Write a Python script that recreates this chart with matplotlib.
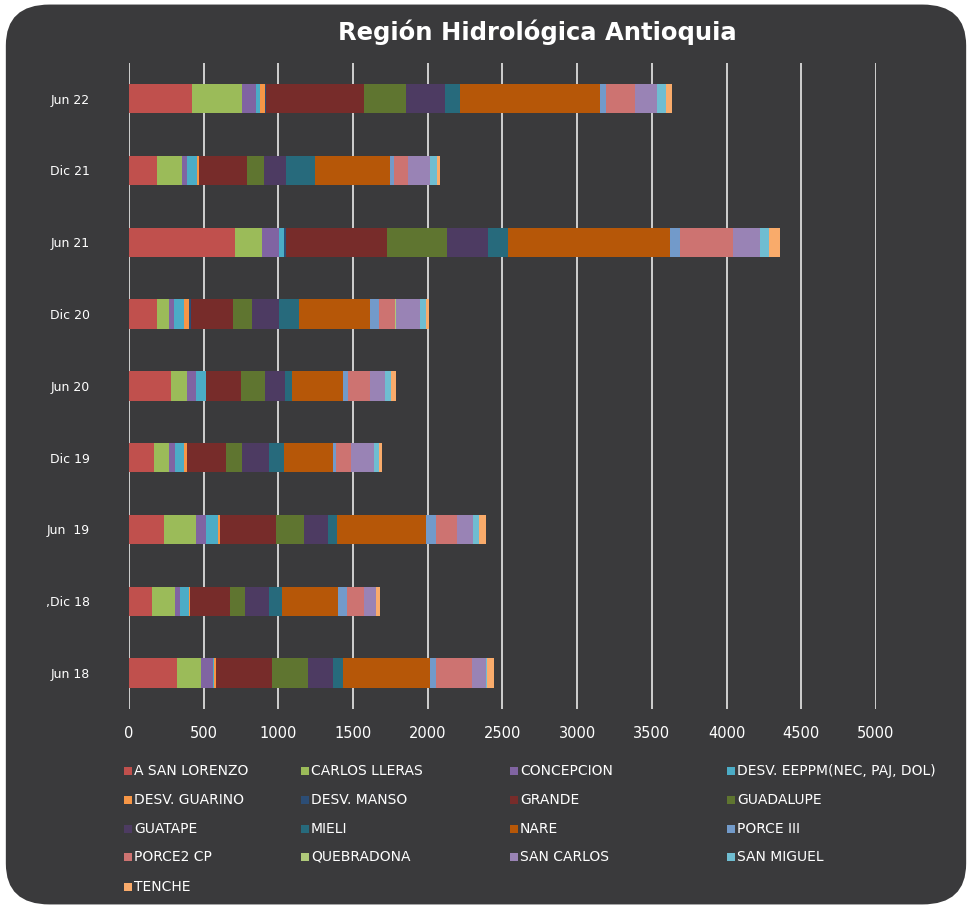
import matplotlib.pyplot as plt
from matplotlib.patches import FancyBboxPatch, Rectangle

# Periodos (de arriba hacia abajo)
periodos = ["Jun 22", "Dic 21", "Jun 21", "Dic 20", "Jun 20", "Dic 19", "Jun  19", ",Dic 18", "Jun 18"]

# Aporte por planta / desviación en cada periodo
san_lorenzo = [424, 187, 708, 187, 279, 165, 232, 152, 324]
carlos_lleras = [330, 166, 180, 79, 109, 101, 214, 156, 156]
concepcion = [94, 38, 114, 33, 61, 44, 67, 36, 82]
desv_eeppm = [31, 67, 34, 69, 64, 56, 81, 58, 7]
desv_guarino = [32, 9, 0, 32, 0, 25, 13, 9, 11]
desv_manso = [9, 2, 13, 13, 0, 0, 0, 0, 0]
grande = [651, 322, 681, 283, 239, 261, 375, 263, 378]
guadalupe = [282, 114, 401, 125, 159, 102, 190, 101, 238]
guatape = [263, 147, 275, 183, 136, 181, 161, 160, 170]
mieli = [103, 194, 134, 137, 47, 101, 58, 89, 67]
nare = [933, 498, 1083, 475, 339, 330, 600, 376, 580]
porce_iii = [42, 33, 67, 58, 33, 22, 67, 60, 45]
porce2_cp = [192, 90, 351, 105, 150, 101, 136, 111, 237]
quebradona = [0, 0, 0, 7, 0, 0, 0, 0, 0]
san_carlos = [149, 149, 184, 160, 96, 149, 107, 81, 93]
san_miguel = [57, 45, 58, 45, 45, 36, 41, 0, 10]
tenche = [44, 22, 76, 18, 29, 22, 47, 31, 44]

series = [
    ("A SAN LORENZO", san_lorenzo, "#C0504D"),
    ("CARLOS LLERAS", carlos_lleras, "#9BBB59"),
    ("CONCEPCION", concepcion, "#8064A2"),
    ("DESV. EEPPM(NEC, PAJ, DOL)", desv_eeppm, "#4BACC6"),
    ("DESV. GUARINO", desv_guarino, "#F79646"),
    ("DESV. MANSO", desv_manso, "#2C4D75"),
    ("GRANDE", grande, "#772C2A"),
    ("GUADALUPE", guadalupe, "#5F7530"),
    ("GUATAPE", guatape, "#4D3B62"),
    ("MIELI", mieli, "#276A7C"),
    ("NARE", nare, "#B65708"),
    ("PORCE III", porce_iii, "#729ACA"),
    ("PORCE2 CP", porce2_cp, "#CD7371"),
    ("QUEBRADONA", quebradona, "#AFC97A"),
    ("SAN CARLOS", san_carlos, "#9983B5"),
    ("SAN MIGUEL", san_miguel, "#6FBDD1"),
    ("TENCHE", tenche, "#F9AB6B"),
]

bg = "#3A3A3C"
fig = plt.figure(figsize=(9.72, 9.09), dpi=100)
fig.patch.set_facecolor("white")

# panel oscuro con esquinas redondeadas
panel = FancyBboxPatch((0.006, 0.005), 0.988, 0.99,
                       boxstyle="round,pad=0,rounding_size=0.045",
                       transform=fig.transFigure, facecolor=bg,
                       edgecolor="none", zorder=-5)
fig.patches.append(panel)

ax = fig.add_axes([0.1327, 0.22, 0.7685, 0.711])
ax.set_facecolor(bg)
for s in ax.spines.values():
    s.set_visible(False)

y = list(range(len(periodos)))
left = [0] * len(periodos)
for name, vals, color in series:
    ax.barh(y, vals, left=left, height=0.41, color=color, label=name, zorder=3)
    left = [a + b for a, b in zip(left, vals)]

ax.set_xlim(0, 5000)
ax.set_ylim(len(periodos) - 0.5, -0.5)
ax.set_xticks(range(0, 5001, 500))
ax.set_yticks(y)
ax.set_yticklabels(periodos)
ax.grid(axis="x", color="#D0D0D0", linewidth=1.4, zorder=1)
ax.tick_params(axis="both", length=0, colors="white")
ax.tick_params(axis="x", labelsize=10.5, pad=12)
ax.tick_params(axis="y", labelsize=9, pad=28)

fig.text(0.553, 0.965, "Región Hidrológica Antioquia", color="white",
         fontsize=17.5, fontweight="bold", ha="center", va="center")

# leyenda en cuadrícula de 4 columnas (orden por filas)
col_x = [124, 301, 510, 727]
row_y = [771, 800, 829, 857, 887]
W, H = 972, 909
for i, (name, vals, color) in enumerate(series):
    cx = col_x[i % 4]
    cy = row_y[i // 4]
    fig.patches.append(Rectangle((cx / W, 1 - (cy + 4) / H), 8 / W, 8 / H,
                                 transform=fig.transFigure, facecolor=color,
                                 edgecolor="none"))
    fig.text((cx + 10) / W, 1 - cy / H, name, color="white", fontsize=10,
             ha="left", va="center")

fig.savefig("out.png", dpi=100, facecolor="white")
